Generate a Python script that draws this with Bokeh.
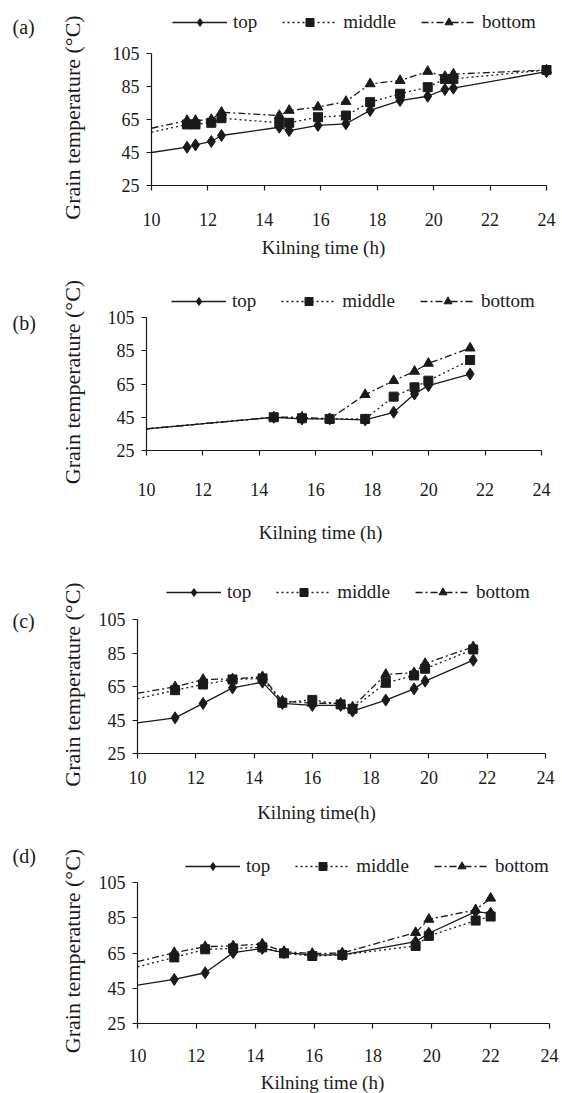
import math
from bokeh.plotting import figure
from bokeh.models import Legend, LegendItem, Label, FixedTicker, Range1d
from bokeh.layouts import column
from bokeh.embed import file_html
from bokeh.resources import INLINE

# ---------------- data ----------------
x_ticks = [10, 12, 14, 16, 18, 20, 22, 24]
y_ticks = [25, 45, 65, 85, 105]
series_names = ["top", "middle", "bottom"]
panel_labels = ["(a)", "(b)", "(c)", "(d)"]
x_titles = ["Kilning time (h)", "Kilning time (h)", "Kilning time(h)", "Kilning time (h)"]
y_title = "Grain temperature (\u00b0C)"

a_x = [10, 11.26, 11.56, 12.12, 12.48, 14.53, 14.88, 15.9, 16.89, 17.75, 18.81, 19.79, 20.4, 20.7, 24]
a_top = [45, 48.2, 49.6, 51.7, 55.3, 60.3, 58.3, 61.4, 62.4, 70.5, 76.5, 79.1, 83.2, 84, 94]
a_middle = [57.3, 62, 62, 63, 65.8, 63, 63, 66.4, 67.4, 75.5, 80.6, 84.6, 89.6, 89.6, 95]
a_bottom = [59.7, 64.4, 64.4, 65, 69.4, 67.4, 70.5, 72.5, 75.9, 86.6, 88.6, 94.1, 91, 92.5, 95]

b_x = [10, 14.51, 15.51, 16.49, 17.75, 18.76, 19.5, 19.99, 21.47]
b_top = [38, 45, 44, 44, 43.4, 48, 59, 64, 71]
b_middle = [38, 45, 44.4, 44, 44, 57.4, 63, 67, 79.4]
b_bottom = [38, 45, 45, 44, 58.6, 67, 72.6, 77.4, 86.6]

c_x = [10, 11.29, 12.25, 13.26, 14.29, 14.97, 16.0, 16.97, 17.38, 18.52, 19.49, 19.87, 21.52]
c_top = [43.3, 46.3, 54.9, 64.2, 67.6, 54.9, 53.7, 53.7, 50.3, 56.9, 63.6, 68.2, 80.7]
c_middle = [57.7, 62.8, 66.2, 69.2, 69.8, 55.3, 57, 54.3, 51.7, 67.2, 71.6, 75.6, 87.1]
c_bottom = [61, 64.8, 69.2, 69.5, 70.8, 56.3, 55, 55, 52.7, 72.2, 73.2, 78.7, 88.7]

d_x = [10, 11.25, 12.3, 13.25, 14.24, 14.98, 15.94, 16.96, 19.45, 19.9, 21.49, 22.0]
d_top = [46.8, 50, 53.8, 65.2, 67.6, 65.2, 63.9, 63.9, 71.4, 76.2, 88.5, 87.5]
d_middle = [57.2, 62.5, 67.1, 67.6, 68.2, 64.8, 63.3, 63.9, 69, 74.7, 83.4, 85.7]
d_bottom = [60.1, 65.2, 68.6, 69, 70.1, 65.8, 64.7, 65, 76.6, 84.1, 89.5, 96.1]

panel_data = [
    (a_x, [a_top, a_middle, a_bottom]),
    (b_x, [b_top, b_middle, b_bottom]),
    (c_x, [c_top, c_middle, c_bottom]),
    (d_x, [d_top, d_middle, d_bottom]),
]

# ---------------- layout / style ----------------
FONT = "Liberation Serif"
INK = "#1a1a1a"
W = 562
X0, X1 = x_ticks[0], x_ticks[-1]
Y0, Y1 = y_ticks[0], y_ticks[-1]
# H: figure height; box: pixel box (left, top, right, bottom) of the axes area
# leg: legend (left, centre y); let: letter centre y; xt: x title centre
geo = [
    dict(H=268, box=(151, 53, 546, 185), leg=(172, 23), let=26, xt=(323, 247), tl=22),
    dict(H=288, box=(146, 49, 541, 182), leg=(171, 34), let=54, xt=(320, 264), tl=27),
    dict(H=278, box=(137, 63, 545, 197), leg=(166, 37), let=64, xt=(316, 256), tl=12),
    dict(H=259, box=(137, 48, 549, 189), leg=(185, 33), let=21, xt=(322, 248), tl=20),
]
styles = [
    dict(dash="solid", marker="diamond", size=12),
    dict(dash="2 3", marker="square", size=9),
    dict(dash="7 3 2 3", marker="triangle", size=10),
]

figs = []
for i, ((xs, ys_list), g) in enumerate(zip(panel_data, geo)):
    H = g["H"]
    bl, bt, br, bb = g["box"]
    kx = (br - bl) / (X1 - X0)
    ky = (bb - bt) / (Y1 - Y0)
    xr = Range1d(X0 - bl / kx, X1 + (W - br) / kx)
    yr = Range1d(Y0 - (H - bb) / ky, Y1 + bt / ky)
    p = figure(width=W, height=H, output_backend="svg", toolbar_location=None,
               x_range=xr, y_range=yr, title_location=None,
               min_border_left=0, min_border_right=0,
               min_border_top=0, min_border_bottom=0)
    p.outline_line_color = None
    p.grid.visible = False
    p.background_fill_color = "white"
    p.border_fill_color = "white"
    for ax in (p.xaxis[0], p.yaxis[0]):
        ax.axis_line_color = INK
        ax.axis_line_width = 1.2
        ax.major_tick_line_color = INK
        ax.major_tick_line_width = 1.2
        ax.major_tick_in = 0
        ax.major_tick_out = 5
        ax.minor_tick_line_color = None
        ax.major_label_text_font = FONT
        ax.major_label_text_font_size = "18px"
        ax.major_label_text_color = INK
    p.xaxis.ticker = FixedTicker(ticks=x_ticks)
    p.yaxis.ticker = FixedTicker(ticks=y_ticks)
    p.xaxis.bounds = (X0, X1)
    p.yaxis.bounds = (Y0, Y1)
    p.xaxis.fixed_location = Y0
    p.yaxis.fixed_location = X0
    p.xaxis.major_label_standoff = g["tl"]
    p.yaxis.major_label_standoff = 7

    items = []
    for name, ys, st in zip(series_names, ys_list, styles):
        r1 = p.line(xs, ys, line_color=INK, line_width=1.3, line_dash=st["dash"])
        r2 = p.scatter(xs[1:], ys[1:], marker=st["marker"], size=st["size"],
                       fill_color=INK, line_color=INK)
        items.append(LegendItem(label=name, renderers=[r1, r2]))

    lx, lcy = g["leg"]
    leg = Legend(items=items, orientation="horizontal",
                 location=(lx, H - lcy - 10),
                 glyph_width=55, glyph_height=20, label_height=20,
                 label_standoff=6, spacing=25, padding=0, margin=0,
                 border_line_alpha=0, background_fill_alpha=0,
                 label_text_font=FONT, label_text_font_size="19px",
                 label_text_font_style="normal", label_text_color=INK)
    p.add_layout(leg, "center")

    p.add_layout(Label(x=12, y=H - g["let"], x_units="screen", y_units="screen",
                       text=panel_labels[i], text_font=FONT, text_font_size="20px",
                       text_font_style="normal",
                       text_color=INK, text_align="left", text_baseline="middle"))
    xt_x, xt_y = g["xt"]
    p.add_layout(Label(x=xt_x, y=H - xt_y, x_units="screen", y_units="screen",
                       text=x_titles[i], text_font=FONT, text_font_size="19px",
                       text_font_style="normal",
                       text_color=INK, text_align="center", text_baseline="middle"))
    p.add_layout(Label(x=72, y=H - (bt + bb) / 2 + 2, x_units="screen", y_units="screen",
                       angle=math.pi / 2, text=y_title, text_font=FONT,
                       text_font_size="22px", text_font_style="normal", text_color=INK,
                       text_align="center", text_baseline="middle"))
    figs.append(p)

layout = column(*figs, spacing=0)
open("out.html", "w").write(file_html(layout, INLINE))
